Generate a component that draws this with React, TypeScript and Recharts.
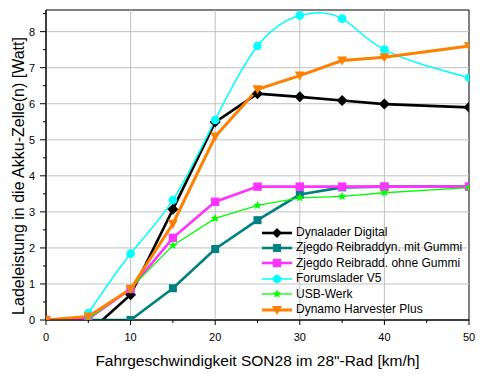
import React from "react";
import { LineChart, Line, XAxis, YAxis, Legend, ReferenceLine, ReferenceArea, Label } from "recharts";

// ---- data ----
const dynaladerX = [5, 10, 15, 20, 25, 30, 35, 40, 50];
const dynaladerY = [-0.35, 0.7, 3.07, 5.49, 6.28, 6.19, 6.09, 5.99, 5.9];

const mitGummiX = [5, 10, 15, 20, 25, 30, 35, 40, 50];
const mitGummiY = [0, 0, 0.88, 1.97, 2.77, 3.48, 3.68, 3.7, 3.7];

const ohneGummiX = [0, 5, 10, 15, 20, 25, 30, 35, 40, 50];
const ohneGummiY = [0, 0.03, 0.86, 2.28, 3.28, 3.7, 3.7, 3.7, 3.7, 3.7];

const forumsladerX = [5, 10, 15, 20, 25, 30, 35, 40, 50];
const forumsladerY = [0.19, 1.84, 3.33, 5.55, 7.6, 8.45, 8.36, 7.5, 6.72];

const usbWerkX = [5, 10, 15, 20, 25, 30, 35, 40, 50];
const usbWerkY = [0.03, 0.88, 2.07, 2.82, 3.18, 3.39, 3.43, 3.53, 3.67];

const harvesterX = [0, 5, 10, 15, 20, 25, 30, 35, 40, 50];
const harvesterY = [0, 0.1, 0.86, 2.67, 5.09, 6.4, 6.78, 7.2, 7.29, 7.6];

const seriesNames = [
  "Dynalader Digital",
  "Zjegdo Reibraddyn. mit Gummi",
  "Zjegdo Reibradd. ohne Gummi",
  "Forumslader V5",
  "USB-Werk",
  "Dynamo Harvester Plus",
];

const xTicks = [0, 5, 10, 15, 20, 25, 30, 35, 40, 45, 50];
const yTicks = [0, 0.5, 1, 1.5, 2, 2.5, 3, 3.5, 4, 4.5, 5, 5.5, 6, 6.5, 7, 7.5, 8, 8.5];
const xGrid = [10, 20, 30, 40];
const yGrid = [1, 2, 3, 4, 5, 6, 7, 8];

const xTitle = 'Fahrgeschwindigkeit SON28 im 28"-Rad [km/h]';
const yTitle = "Ladeleistung in die Akku-Zelle(n) [Watt]";

const zip = (xs: number[], ys: number[]) => xs.map((x, i) => ({ x, y: ys[i] }));

type MarkerKind = "diamond" | "square" | "circle" | "star" | "triangleDown";

const series = [
  { name: seriesNames[0], data: zip(dynaladerX, dynaladerY), color: "#000000", width: 2.6, marker: "diamond" as MarkerKind, size: 5.5, type: "linear" },
  { name: seriesNames[1], data: zip(mitGummiX, mitGummiY), color: "#008080", width: 2.6, marker: "square" as MarkerKind, size: 4, type: "linear" },
  { name: seriesNames[2], data: zip(ohneGummiX, ohneGummiY), color: "#ff33ff", width: 2.6, marker: "square" as MarkerKind, size: 4.2, type: "linear" },
  { name: seriesNames[3], data: zip(forumsladerX, forumsladerY), color: "#00ffff", width: 1.5, marker: "circle" as MarkerKind, size: 4.3, type: "natural" },
  { name: seriesNames[4], data: zip(usbWerkX, usbWerkY), color: "#00ff00", width: 1.3, marker: "star" as MarkerKind, size: 4.5, type: "linear" },
  { name: seriesNames[5], data: zip(harvesterX, harvesterY), color: "#ff8000", width: 3, marker: "triangleDown" as MarkerKind, size: 5, type: "linear" },
];

const FONT = "'Liberation Sans', Arial, sans-serif";

function MarkerShape({ kind, cx, cy, r, color }: { kind: MarkerKind; cx: number; cy: number; r: number; color: string }) {
  switch (kind) {
    case "diamond":
      return <polygon points={`${cx},${cy - r} ${cx + r},${cy} ${cx},${cy + r} ${cx - r},${cy}`} fill={color} />;
    case "square":
      return <rect x={cx - r} y={cy - r} width={2 * r} height={2 * r} fill={color} />;
    case "circle":
      return <circle cx={cx} cy={cy} r={r} fill={color} />;
    case "triangleDown":
      return <polygon points={`${cx - r},${cy - r * 0.8} ${cx + r},${cy - r * 0.8} ${cx},${cy + r}`} fill={color} />;
    case "star": {
      const pts: string[] = [];
      for (let i = 0; i < 10; i++) {
        const rr = i % 2 === 0 ? r : r * 0.45;
        const a = -Math.PI / 2 + (i * Math.PI) / 5;
        pts.push(`${cx + rr * Math.cos(a)},${cy + rr * Math.sin(a)}`);
      }
      return <polygon points={pts.join(" ")} fill={color} />;
    }
  }
  return null;
}

const makeDot = (kind: MarkerKind, r: number, color: string) => (props: any) => {
  const { cx, cy, index, payload } = props;
  if (cx == null || cy == null || payload.y < 0) return <g key={`d-${index}`} />;
  return (
    <g key={`d-${index}`}>
      <MarkerShape kind={kind} cx={cx} cy={cy} r={r} color={color} />
    </g>
  );
};

const XTick = (props: any) => {
  const { x, y, payload } = props;
  const v = payload.value;
  const major = v % 10 === 0;
  return (
    <g>
      <line x1={x} x2={x} y1={y} y2={y + (major ? 5 : 3)} stroke="#000" strokeWidth={1} />
      {major && (
        <text x={x} y={y + 21} textAnchor="middle" fontSize={11} fontFamily={FONT} fill="#000">
          {v}
        </text>
      )}
    </g>
  );
};

const YTick = (props: any) => {
  const { x, y, payload } = props;
  const v = payload.value;
  const major = Math.abs(v - Math.round(v)) < 1e-6;
  return (
    <g>
      <line x1={x - (major ? 6 : 3)} x2={x} y1={y} y2={y} stroke="#000" strokeWidth={1} />
      {major && (
        <text x={x - 11} y={y + 4} textAnchor="end" fontSize={11} fontFamily={FONT} fill="#000">
          {v}
        </text>
      )}
    </g>
  );
};

const LegendContent = () => (
  <div style={{ fontFamily: FONT, fontSize: 12, color: "#000", lineHeight: "15.4px" }}>
    {series.map((s) => (
      <div key={s.name} style={{ display: "flex", alignItems: "center", height: 15.4, whiteSpace: "nowrap" }}>
        <svg width={30} height={14} style={{ marginRight: 4, flex: "none" }}>
          <line x1={0} x2={30} y1={7} y2={7} stroke={s.color} strokeWidth={s.width} />
          <MarkerShape kind={s.marker} cx={15} cy={7} r={Math.min(s.size, 5)} color={s.color} />
        </svg>
        <span>{s.name}</span>
      </div>
    ))}
  </div>
);

export default function App() {
  return (
    <div style={{ position: "absolute", left: 0, top: 0, background: "#fff" }}>
      <LineChart width={480} height={377} margin={{ top: 10, right: 11, bottom: 0, left: 0 }}>
        <XAxis
          dataKey="x"
          type="number"
          domain={[0, 50]}
          ticks={xTicks}
          interval={0}
          height={57}
          tickSize={0}
          tickMargin={0}
          tickLine={false}
          axisLine={{ stroke: "#000", strokeWidth: 1 }}
          tick={<XTick />}
          allowDataOverflow
        >
          <Label
            content={(p: any) => {
              const vb = p.viewBox;
              return (
                <text x={vb.x + vb.width / 2} y={vb.y + 46} textAnchor="middle" fontSize={15.5} fontFamily={FONT} fill="#000">
                  {xTitle}
                </text>
              );
            }}
          />
        </XAxis>
        <YAxis
          dataKey="y"
          type="number"
          domain={[0, 8.6]}
          ticks={yTicks}
          interval={0}
          width={46}
          tickSize={0}
          tickMargin={0}
          tickLine={false}
          axisLine={{ stroke: "#000", strokeWidth: 1 }}
          tick={<YTick />}
          allowDataOverflow
        >
          <Label
            content={(p: any) => {
              const vb = p.viewBox;
              const cx = vb.x + 24;
              const cy = 176;
              return (
                <text x={cx} y={cy} transform={`rotate(-90, ${cx}, ${cy})`} textAnchor="middle" fontSize={16} fontFamily={FONT} fill="#000">
                  {yTitle}
                </text>
              );
            }}
          />
        </YAxis>
        {xGrid.map((v) => (
          <ReferenceLine key={`gx${v}`} x={v} stroke="#c0c0c0" strokeWidth={1} />
        ))}
        {yGrid.map((v) => (
          <ReferenceLine key={`gy${v}`} y={v} stroke="#c0c0c0" strokeWidth={1} />
        ))}
        <ReferenceArea x1={0} x2={50} y1={0} y2={8.6} fill="none" stroke="#000" strokeWidth={1} fillOpacity={0} />
        {series.map((s) => (
          <Line
            key={s.name}
            data={s.data}
            dataKey="y"
            name={s.name}
            type={s.type as any}
            stroke={s.color}
            strokeWidth={s.width}
            dot={makeDot(s.marker, s.size, s.color)}
            activeDot={false}
            isAnimationActive={false}
          />
        ))}
        <Legend
          layout="vertical"
          align="center"
          verticalAlign="middle"
          content={<LegendContent />}
          wrapperStyle={{ position: "absolute", left: 262, top: 225, width: 215 }}
        />
      </LineChart>
    </div>
  );
}
